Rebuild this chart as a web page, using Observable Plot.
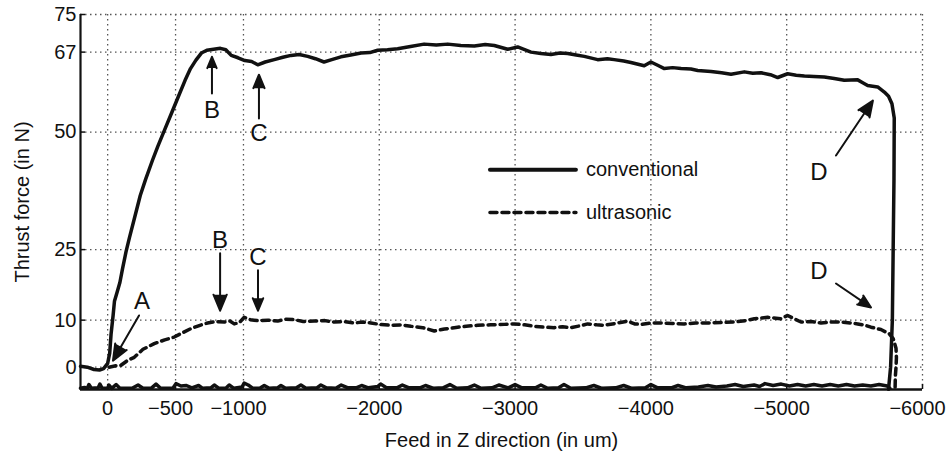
<!DOCTYPE html>
<html>
<head>
<meta charset="utf-8">
<script src="https://cdn.jsdelivr.net/npm/d3@7"></script>
<script src="https://cdn.jsdelivr.net/npm/@observablehq/plot@0.6"></script>
<style>
  html, body { margin: 0; padding: 0; background: white; }
  #chart svg { display: block; }
</style>
</head>
<body>
<div id="chart"></div>
<script>
// Axis settings
const xDomain = [200, -6000];
const yDomain = [-4.75, 75];
const xTicks = [0, -500, -1000, -2000, -3000, -4000, -5000, -6000];
const yTicks = [0, 10, 25, 50, 67, 75];

// Conventional drilling thrust force [feed um, force N]
const conventional = [
  [200, 0.2], [150, 0], [100, -0.5], [60, -0.6], [30, -0.3], [0, 0.8], [-15, 3], [-25, 7],
  [-40, 11], [-50, 14], [-70, 16], [-90, 18], [-110, 21], [-135, 24.5], [-160, 27.5],
  [-200, 32], [-240, 36.5], [-280, 40], [-330, 44], [-370, 47], [-420, 50.5], [-470, 54],
  [-520, 57.5], [-570, 61], [-610, 63.5], [-650, 65.3], [-690, 66.8], [-730, 67.4],
  [-780, 67.6], [-830, 67.8], [-870, 67.5], [-910, 66.3], [-960, 65.8], [-1010, 65.2],
  [-1060, 65], [-1105, 64.3], [-1160, 64.9], [-1227, 65.4], [-1290, 65.9], [-1350, 66.3],
  [-1410, 66.5], [-1473, 66.1], [-1530, 65.6], [-1593, 64.9], [-1650, 65.4], [-1718, 66],
  [-1790, 66.4], [-1866, 66.8], [-1930, 66.9], [-1988, 67.4], [-2060, 67.5], [-2135, 67.7],
  [-2230, 68.2], [-2330, 68.7], [-2420, 68.5], [-2504, 68.7], [-2600, 68.4], [-2700, 68.3],
  [-2780, 68.6], [-2847, 68.4], [-2945, 67.6], [-3019, 68.1], [-3117, 67], [-3190, 66.7],
  [-3264, 66.5], [-3330, 66.8], [-3387, 66.7], [-3450, 66.4], [-3510, 66.1], [-3608, 65.4],
  [-3680, 65.6], [-3730, 65.4], [-3800, 65.1], [-3853, 64.8], [-3951, 64.1], [-4000, 64.9],
  [-4050, 64.2], [-4099, 63.5], [-4160, 63.7], [-4222, 63.5], [-4295, 63.4], [-4345, 63.1],
  [-4443, 62.9], [-4520, 62.6], [-4590, 62.3], [-4688, 62.8], [-4750, 62.5], [-4811, 62.6],
  [-4880, 62.2], [-4934, 61.6], [-5007, 62.4], [-5070, 62.1], [-5130, 61.9], [-5200, 61.8],
  [-5277, 61.7], [-5350, 61.4], [-5424, 61], [-5523, 61.1], [-5560, 60.5], [-5596, 59.9],
  [-5670, 59.6], [-5719, 58.5], [-5750, 57.6], [-5775, 56], [-5792, 53], [-5790, 40],
  [-5784, 25], [-5778, 10], [-5765, 0], [-5750, -4.7]
];

// Ultrasonic drilling thrust force [feed um, force N]
const ultrasonic = [
  [-10, 0], [-60, 0.3], [-98, 0.4], [-150, 1.5], [-196, 2.1], [-260, 3.8], [-343, 5],
  [-420, 5.8], [-490, 6.4], [-550, 7.3], [-613, 8.2], [-680, 8.9], [-736, 9.4], [-800, 9.7],
  [-859, 9.6], [-900, 9.8], [-932, 9.2], [-970, 9.5], [-1006, 10.6], [-1050, 10.1],
  [-1105, 9.9], [-1180, 10], [-1252, 9.8], [-1310, 10.2], [-1374, 10.1], [-1440, 9.7],
  [-1521, 9.8], [-1600, 9.9], [-1669, 9.6], [-1740, 9.7], [-1816, 9.4], [-1880, 9.6],
  [-1939, 9.4], [-2000, 9.1], [-2086, 8.9], [-2160, 9], [-2233, 8.7], [-2320, 8.4],
  [-2405, 7.7], [-2480, 8.1], [-2552, 8.4], [-2640, 8.7], [-2725, 8.9], [-2820, 9],
  [-2920, 9.1], [-2994, 9.2], [-3070, 9], [-3141, 8.7], [-3220, 8.5], [-3289, 8.4],
  [-3350, 8.6], [-3411, 8.4], [-3480, 8.8], [-3534, 9.2], [-3600, 9], [-3657, 8.9],
  [-3740, 9.3], [-3829, 9.8], [-3880, 9.2], [-3927, 9.1], [-4000, 9.4], [-4075, 9.4],
  [-4160, 9.3], [-4246, 9.2], [-4330, 9.4], [-4418, 9.4], [-4520, 9.5], [-4614, 9.6],
  [-4700, 9.9], [-4762, 10.3], [-4860, 10.6], [-4958, 10.3], [-5007, 11], [-5060, 10.2],
  [-5105, 9.6], [-5180, 9.7], [-5253, 9.4], [-5330, 9.6], [-5400, 9.6], [-5470, 9.4],
  [-5523, 9.2], [-5580, 8.9], [-5621, 8.5], [-5694, 8], [-5755, 7.1], [-5785, 6],
  [-5805, 4], [-5808, 2], [-5805, 0], [-5800, -2], [-5798, -4.7]
];

// Noisy trace running along the bottom of the plot
const bottomTrace = [
  [200,-4.5],[170,-4.3],[150,-4.5],[138,-3.7],[120,-4.5],[70,-4.4],[57,-3.6],[40,-4.5],[0,-4.5],
  [-10,-3.8],[-30,-4.5],[-62,-3.7],[-90,-4.5],[-180,-4.5],[-224,-3.8],[-260,-4.5],[-320,-4.5],
  [-356,-3.6],[-390,-4.5],[-480,-4.5],[-503,-3.5],[-540,-4],[-580,-3.9],[-620,-4.4],[-670,-3.9],
  [-700,-4.5],[-760,-4.4],[-785,-3.8],[-820,-4.5],[-870,-4.5],[-895,-3.8],[-930,-4.5],[-990,-4.2],
  [-1005,-3.4],[-1035,-3.8],[-1070,-4.5],[-1120,-4.5],[-1153,-3.9],[-1190,-4.5],[-1250,-4.4],
  [-1276,-3.9],[-1310,-4.5],[-1390,-4.4],[-1423,-3.8],[-1460,-4.5],[-1540,-4.4],[-1570,-3.8],
  [-1610,-4.4],[-1680,-4.5],[-1720,-3.8],[-1770,-4.4],[-1830,-4.4],[-1870,-3.9],[-1920,-4.4],
  [-1990,-4.1],[-2010,-3.6],[-2050,-4.3],[-2130,-4.4],[-2170,-3.8],[-2220,-4.4],[-2300,-4.4],
  [-2340,-3.9],[-2400,-4.5],[-2470,-4.4],[-2520,-3.7],[-2570,-4.5],[-2650,-4.4],[-2700,-3.8],
  [-2750,-4.5],[-2830,-4.4],[-2880,-3.8],[-2950,-4.4],[-3000,-3.7],[-3050,-4.4],[-3150,-4.4],
  [-3190,-3.8],[-3240,-4.5],[-3320,-4.4],[-3360,-3.7],[-3410,-4.5],[-3520,-4.4],[-3580,-3.9],
  [-3640,-4.5],[-3740,-4.4],[-3800,-3.9],[-3860,-4.5],[-3960,-4.4],[-4000,-3.7],[-4050,-4.4],
  [-4150,-4.4],[-4200,-3.9],[-4260,-4.4],[-4350,-4.2],[-4420,-3.9],[-4480,-4.2],[-4560,-4],
  [-4620,-3.7],[-4680,-4.1],[-4760,-3.8],[-4800,-4.1],[-4840,-3.5],[-4900,-3.9],[-4960,-3.6],
  [-5020,-4],[-5080,-3.7],[-5140,-4],[-5200,-3.7],[-5260,-4],[-5320,-3.7],[-5380,-4],
  [-5440,-3.7],[-5500,-4],[-5560,-3.8],[-5620,-4],[-5680,-3.7],[-5740,-4],[-5760,-4.5]
];

// Annotation letters and arrows (data units)
const letters = [
  {x: -768, y: 54.6, text: "B"}, {x: -1114, y: 49.7, text: "C"},
  {x: -828, y: 26.9, text: "B"}, {x: -1107, y: 23.3, text: "C"},
  {x: -253, y: 13.9, text: "A"},
  {x: -5238, y: 41.4, text: "D"}, {x: -5238, y: 20.3, text: "D"}
];
const arrows = [
  {x1: -768, y1: 58.2, x2: -768, y2: 66.0},
  {x1: -1114, y1: 52.9, x2: -1114, y2: 62.2},
  {x1: -828, y1: 24.2, x2: -828, y2: 12.0},
  {x1: -1107, y1: 20.6, x2: -1107, y2: 12.0},
  {x1: -231, y1: 11.0, x2: -39, y2: 1.4},
  {x1: -5363, y1: 45.0, x2: -5635, y2: 56.7},
  {x1: -5363, y1: 17.8, x2: -5621, y2: 12.7}
];

// Legend
const legendNames = ["conventional", "ultrasonic"];
const legendY = [42, 32.9];
const legendX = [-2815, -3448, -3522];

const convData = conventional.map(([x, y]) => ({x, y}));
const ultraData = ultrasonic.map(([x, y]) => ({x, y}));
const bottomData = bottomTrace.map(([x, y]) => ({x, y}));
const legendSolid = [{x: legendX[0], y: legendY[0]}, {x: legendX[1], y: legendY[0]}];
const legendDash = [{x: legendX[0], y: legendY[1]}, {x: legendX[1], y: legendY[1]}];
const legendText = legendNames.map((t, i) => ({x: legendX[2], y: legendY[i], text: t}));
const fmt = d => (d < 0 ? "\u2212" : "") + Math.abs(d);
const xTicksZero = xTicks.filter(d => d === 0);
const xTicksNeg = xTicks.filter(d => d < 0);

const chart = Plot.plot({
  width: 947,
  height: 456,
  marginLeft: 80,
  marginRight: 25,
  marginTop: 14,
  marginBottom: 67,
  x: {domain: xDomain},
  y: {domain: yDomain},
  style: {
    fontFamily: '"Liberation Sans", Arial, sans-serif',
    fontSize: "20px",
    color: "#111",
    background: "white",
    overflow: "visible"
  },
  marks: [
    Plot.gridX(xTicks, {stroke: "#555", strokeOpacity: 1, strokeWidth: 1.3, strokeDasharray: "1.5,3.5"}),
    Plot.gridY(yTicks, {stroke: "#555", strokeOpacity: 1, strokeWidth: 1.3, strokeDasharray: "1.5,3.5"}),
    Plot.axisX(xTicksZero, {tickSize: 0, tickPadding: 11, label: null, fontSize: 20, tickFormat: fmt}),
    Plot.axisX(xTicksNeg, {tickSize: 0, tickPadding: 11, label: null, dx: -5, fontSize: 20, tickFormat: fmt}),
    Plot.axisY(yTicks, {tickSize: 0, tickPadding: 4, label: null, fontSize: 20, tickFormat: fmt}),
    Plot.ruleX(xTicks, {y1: yDomain[0], y2: yDomain[0] + 1.1, stroke: "#111", strokeWidth: 1.5}),
    Plot.ruleY(yTicks, {x1: xDomain[0], x2: xDomain[0] - 37, stroke: "#111", strokeWidth: 1.5}),
    Plot.line(bottomData, {x: "x", y: "y", stroke: "#111", strokeWidth: 3.5}),
    Plot.line(ultraData, {x: "x", y: "y", stroke: "#111", strokeWidth: 3.5, strokeDasharray: "7,5"}),
    Plot.line(convData, {x: "x", y: "y", stroke: "#111", strokeWidth: 3.5}),
    Plot.ruleX([xDomain[0]], {stroke: "#111", strokeWidth: 2.2}),
    Plot.ruleY([yDomain[0]], {stroke: "#111", strokeWidth: 2.5}),
    Plot.arrow(arrows, {x1: "x1", y1: "y1", x2: "x2", y2: "y2", stroke: "#111", fill: "#111", strokeWidth: 2, headLength: 13, headAngle: 45}),
    Plot.text(letters, {x: "x", y: "y", text: "text", fontSize: 24, fill: "#111"}),
    Plot.line(legendSolid, {x: "x", y: "y", stroke: "#111", strokeWidth: 4}),
    Plot.line(legendDash, {x: "x", y: "y", stroke: "#111", strokeWidth: 3.5, strokeDasharray: "7,5"}),
    Plot.text(legendText, {x: "x", y: "y", text: "text", textAnchor: "start", fontSize: 20, fill: "#111"}),
    Plot.text(["Feed in Z direction (in um)"], {frameAnchor: "bottom", dy: 51, lineAnchor: "middle", textAnchor: "middle", fontSize: 20, fill: "#111"}),
    Plot.text(["Thrust force (in N)"], {frameAnchor: "left", dx: -58, rotate: -90, textAnchor: "middle", lineAnchor: "middle", fontSize: 20, fill: "#111"})
  ]
});
document.getElementById("chart").appendChild(chart);
</script>
</body>
</html>
